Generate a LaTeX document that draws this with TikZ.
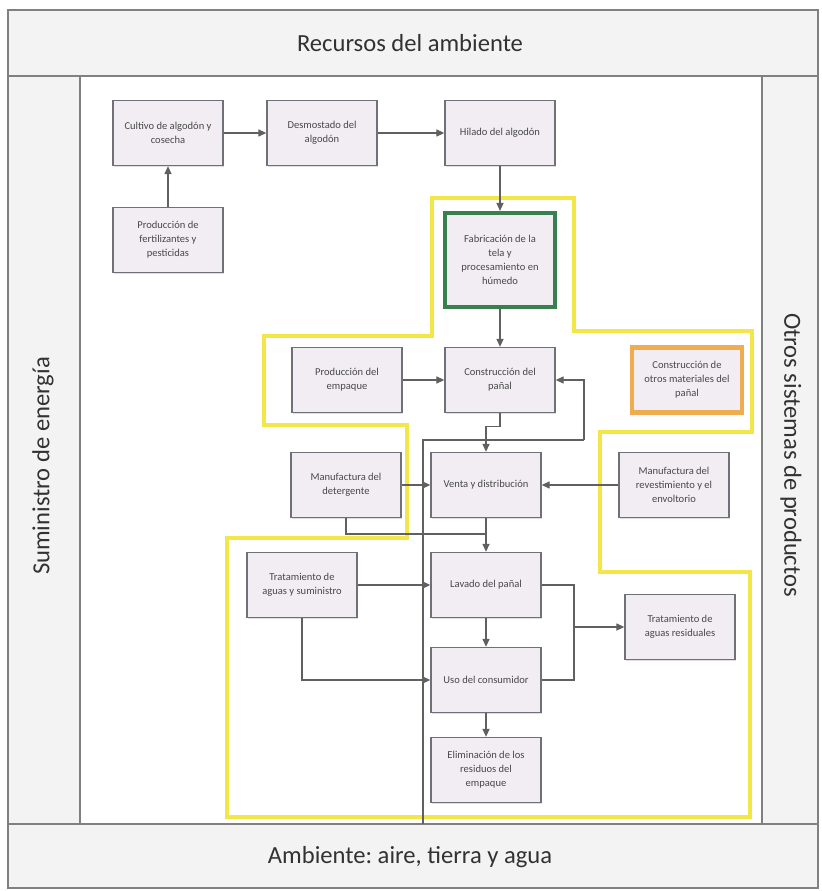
\documentclass[tikz,border=0pt]{standalone}
\usepackage{fontspec}
\setmainfont{Carlito}
\usetikzlibrary{arrows.meta,shadows}
\definecolor{marco}{RGB}{128,128,128}
\definecolor{fondobanda}{RGB}{243,243,243}
\definecolor{caja}{RGB}{241,237,242}
\definecolor{bordecaja}{RGB}{112,112,120}
\definecolor{limite}{RGB}{242,230,72}
\definecolor{verdetela}{RGB}{56,128,78}
\definecolor{naranja}{RGB}{240,172,80}
\definecolor{texto}{RGB}{72,72,72}
\definecolor{rotulo}{RGB}{50,50,50}

\tikzset{
  etapa/.style={draw=bordecaja, line width=0.8pt, fill=caja, minimum width=2.2cm,
    minimum height=1.3cm, align=center, text=texto, font=\fontsize{6}{8}\selectfont,
    drop shadow={shadow xshift=0.7pt, shadow yshift=-0.7pt, opacity=0.25}},
  flecha/.style={draw=marco!75!black, line width=0.6pt, -{Triangle[length=4.5pt,width=4pt]}},
  linea/.style={draw=marco!75!black, line width=0.6pt},
  frontera/.style={draw=limite, line width=2pt},
  rotbanda/.style={text=rotulo, font=\fontsize{14}{16}\selectfont}
}

\begin{document}
\frenchspacing
\begin{tikzpicture}[x=0.02cm, y=-0.02cm]
		\useasboundingbox (0,0) rectangle (821,891);
		% marco y bandas
		\fill[fondobanda] (8,10) rectangle (818,888);
		\fill[white] (80,76) rectangle (762,824);
		\draw[marco, line width=0.9pt] (8,10) rectangle (818,888);
		\draw[marco, line width=0.9pt] (8,76) -- (818,76);
		\draw[marco, line width=0.9pt] (8,824) -- (818,824);
		\draw[marco, line width=0.9pt] (80,76) -- (80,824);
		\draw[marco, line width=0.9pt] (762,76) -- (762,824);
		\node[rotbanda] (recursos) at (410,43) {Recursos del ambiente};
		\node[rotbanda] (ambiente) at (410,857) {Ambiente: aire, tierra y agua};
		\node[rotbanda, rotate=90] (energia) at (43,466) {Suministro de energía};
		\node[rotbanda, rotate=-90] (otros) at (791,455) {Otros sistemas de productos};
		% limite del sistema
		\draw[frontera] (432,198) -- (574,198) -- (574,331) -- (752,331) -- (752,432)
			-- (600,432) -- (600,572) -- (750,572) -- (750,817) -- (227,817) -- (227,538)
			-- (407,538) -- (407,425) -- (264,425) -- (264,336) -- (432,336) -- cycle;
		% etapas
		\node[etapa] (cultivo) at (168,133) {Cultivo de algodón y\\cosecha};
		\node[etapa] (desmostado) at (322,133) {Desmostado del\\algodón};
		\node[etapa] (hilado) at (500,133) {Hilado del algodón};
		\node[etapa] (fertil) at (168,240) {Producción de\\fertilizantes y\\pesticidas};
		\node[etapa, draw=verdetela, line width=2.4pt, minimum height=1.88cm] (tela) at (500,260)
			{Fabricación de la\\tela y\\procesamiento en\\húmedo};
		\node[etapa] (empaque) at (347,380) {Producción del\\empaque};
		\node[etapa] (panal) at (500,380) {Construcción del\\pañal};
		\node[etapa, draw=naranja, line width=2.4pt] (otrosmat) at (687,380)
			{Construcción de\\otros materiales del\\pañal};
		\node[etapa] (deterg) at (346,485) {Manufactura del\\detergente};
		\node[etapa] (venta) at (486,485) {Venta y distribución};
		\node[etapa] (revest) at (674,485) {Manufactura del\\revestimiento y el\\envoltorio};
		\node[etapa] (trataguas) at (302,585) {Tratamiento de\\aguas y suministro};
		\node[etapa] (lavado) at (486,585) {Lavado del pañal};
		\node[etapa] (residual) at (680,627) {Tratamiento de\\aguas residuales};
		\node[etapa] (uso) at (486,680) {Uso del consumidor};
		\node[etapa] (elimina) at (486,770) {Eliminación de los\\residuos del\\empaque};
		% conexiones
		\coordinate (retorno) at (423,824);
		\coordinate (codo) at (584,440);
		\coordinate (union) at (486,534);
		\coordinate (nudo) at (574,627);
		\draw[flecha] (cultivo) -- (desmostado);
		\draw[flecha] (desmostado) -- (hilado);
		\draw[flecha] (fertil) -- (cultivo);
		\draw[flecha] (hilado) -- (tela);
		\draw[flecha] (tela) -- (panal);
		\draw[flecha] (empaque) -- (panal);
		\draw[flecha] (panal.south) -- ++(0,13) -| (venta.north);
		\draw[linea] (retorno) |- (codo);
		\draw[flecha] (codo) |- (panal.east);
		\draw[flecha] (deterg) -- (venta);
		\draw[flecha] (revest) -- (venta);
		\draw[linea] (deterg.south) |- (union);
		\draw[flecha] (venta) -- (lavado);
		\draw[flecha] (trataguas) -- (lavado);
		\draw[flecha] (trataguas.south) |- (uso.west);
		\draw[flecha] (lavado) -- (uso);
		\draw[flecha] (uso) -- (elimina);
		\draw[linea] (lavado.east) -| (nudo) |- (uso.east);
		\draw[flecha] (nudo) -- (residual.west);
	\end{tikzpicture}
\end{document}
